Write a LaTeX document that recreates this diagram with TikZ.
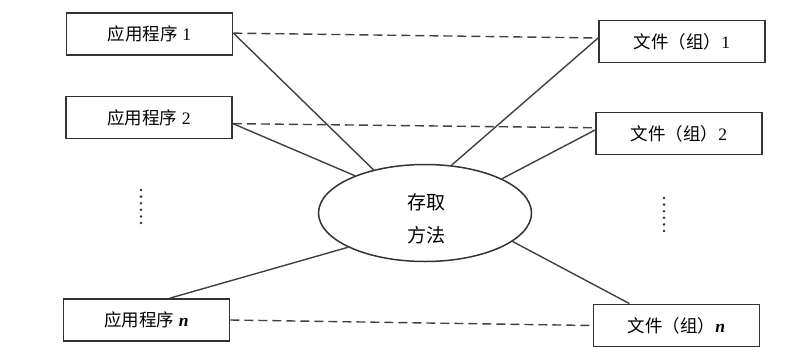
\documentclass[tikz,border=0pt]{standalone}
\usepackage{fontspec}
\setmainfont{Liberation Serif}
\newfontfamily\cjk{Noto Sans CJK SC}
\usetikzlibrary{calc,shapes.geometric}
\begin{document}
\begin{tikzpicture}[x=1pt,y=-1pt,
  box/.style={draw=black!80, line width=1.8pt, minimum width=166pt, minimum height=42pt,
              inner sep=0pt, font=\fontsize{17.5}{20}\selectfont},
  link/.style={draw=black!75, line width=1.4pt},
  dashlink/.style={link, dash pattern=on 9pt off 5pt},
  dots/.style={draw=black!80, line width=2.8pt, line cap=round, dash pattern=on 0pt off 6.6pt}]
\useasboundingbox (0,0) rectangle (795,349);

\node[box] (a1) at (149.5,34)   {{\cjk 应用程序}\ 1};
\node[box] (a2) at (149,117.5)  {{\cjk 应用程序}\ 2};
\node[box] (an) at (146.5,320)  {{\cjk 应用程序}\ \textbf{\textit{n}}};
\node[box] (f1) at (682,41.5)   {{\cjk 文件（组）}1};
\node[box] (f2) at (679,133.5)  {{\cjk 文件（组）}2};
\node[box] (fn) at (676.5,325.5){{\cjk 文件（组）}\textbf{\textit{n}}};

\node[ellipse, draw=black!80, line width=1.5pt, minimum width=213pt, minimum height=97pt, inner sep=0pt] (e) at (425,213) {};
\node[font=\cjk\fontsize{19}{33}\selectfont, align=center, inner sep=0pt] (etext) at (426,218.5) {存取\\方法};

% attachment points
\coordinate (a1p) at ($(a1.north east)!0.48!(a1.south east)$);
\coordinate (a2p) at ($(a2.north east)!0.64!(a2.south east)$);
\coordinate (anp) at ($(an.north west)!0.64!(an.north east)$);
\coordinate (f1p) at ($(f1.north west)!0.42!(f1.south west)$);
\coordinate (f2p) at ($(f2.north west)!0.42!(f2.south west)$);
\coordinate (f2d) at ($(f2.north west)!0.37!(f2.south west)$);
\coordinate (fnp) at ($(fn.north west)!0.22!(fn.north east)$);

% solid links to access method
\draw[link] (a1p) -- (e.140);
\draw[link] (a2p) -- (e.152);
\draw[link] (anp) -- (e.204);
\draw[link] (f1p) -- (e.61);
\draw[link] (f2p) -- (e.24);
\draw[link] (fnp) -- (e.-18);

% dashed logical links
\draw[dashlink] (a1p) -- (f1p);
\draw[dashlink] (a2p) -- (f2d);
\draw[dashlink] (an.east) -- (fn.west);

% vertical ellipses
\draw[dots] (141,190) -- (141,224);
\draw[dots] (664,198) -- (664,233);
\end{tikzpicture}
\end{document}
